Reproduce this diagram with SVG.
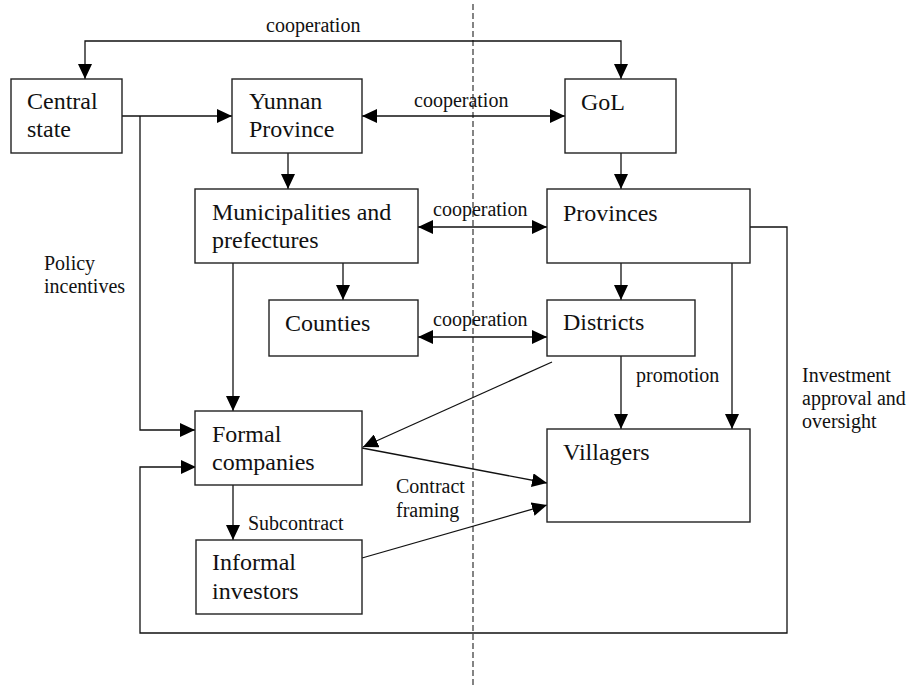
<svg xmlns="http://www.w3.org/2000/svg" width="914" height="690" viewBox="0 0 914 690">
<style>
.box{fill:#fff;stroke:#222;stroke-width:1.4}
.n{font-family:"Liberation Serif","Times New Roman",serif;font-size:24px;fill:#111}
.l{font-family:"Liberation Serif","Times New Roman",serif;font-size:20px;fill:#111}
.c{fill:none;stroke:#111;stroke-width:1.3}
.d{fill:none;stroke:#333;stroke-width:1.2;stroke-dasharray:6 3}
</style>
<defs>
<marker id="ah" viewBox="0 0 15 14" refX="15" refY="7" markerWidth="15" markerHeight="14" markerUnits="userSpaceOnUse" orient="auto-start-reverse">
<path d="M0,0 L15,7 L0,14 z" fill="#000"/>
</marker>
</defs>
<rect width="914" height="690" fill="#fff"/>
<line class="d" x1="473" y1="4" x2="473" y2="688"/>
<g id="connectors">
<polyline class="c" points="85,79 85,41 621,41 621,79" marker-start="url(#ah)" marker-end="url(#ah)"/>
<line class="c" x1="122" y1="116" x2="232" y2="116" marker-end="url(#ah)"/>
<polyline class="c" points="140,116 140,430 195,430" marker-end="url(#ah)"/>
<line class="c" x1="362" y1="116" x2="565" y2="116" marker-start="url(#ah)" marker-end="url(#ah)"/>
<line class="c" x1="288" y1="153" x2="288" y2="189" marker-end="url(#ah)"/>
<line class="c" x1="621" y1="153" x2="621" y2="189" marker-end="url(#ah)"/>
<line class="c" x1="418" y1="227" x2="547" y2="227" marker-start="url(#ah)" marker-end="url(#ah)"/>
<line class="c" x1="343" y1="263" x2="343" y2="300" marker-end="url(#ah)"/>
<line class="c" x1="233" y1="263" x2="233" y2="411" marker-end="url(#ah)"/>
<line class="c" x1="418" y1="337" x2="547" y2="337" marker-start="url(#ah)" marker-end="url(#ah)"/>
<line class="c" x1="621" y1="263" x2="621" y2="300" marker-end="url(#ah)"/>
<line class="c" x1="732" y1="263" x2="732" y2="429" marker-end="url(#ah)"/>
<line class="c" x1="621" y1="356" x2="621" y2="429" marker-end="url(#ah)"/>
<line class="c" x1="552" y1="362" x2="363" y2="447" marker-end="url(#ah)"/>
<line class="c" x1="362" y1="448" x2="547" y2="483" marker-end="url(#ah)"/>
<line class="c" x1="362" y1="558" x2="547" y2="505" marker-end="url(#ah)"/>
<line class="c" x1="233" y1="485" x2="233" y2="540" marker-end="url(#ah)"/>
<polyline class="c" points="750,227 787,227 787,633 140,633 140,467 196,467" marker-end="url(#ah)"/>
</g>
<g id="labels">
<text class="l" x="266" y="32">cooperation</text>
<text class="l" x="414" y="107">cooperation</text>
<text class="l" x="433" y="216">cooperation</text>
<text class="l" x="433" y="326">cooperation</text>
<text class="l" x="44" y="270">Policy</text>
<text class="l" x="44" y="293">incentives</text>
<text class="l" x="636" y="382">promotion</text>
<text class="l" x="802" y="382">Investment</text>
<text class="l" x="802" y="405">approval and</text>
<text class="l" x="802" y="428">oversight</text>
<text class="l" x="248" y="530">Subcontract</text>
<text class="l" x="396" y="493">Contract</text>
<text class="l" x="396" y="517">framing</text>
</g>
<g id="central-state"><rect class="box" x="11" y="79" width="111" height="74"/><text class="n" x="27" y="109">Central</text><text class="n" x="27" y="137">state</text></g>
<g id="yunnan"><rect class="box" x="232" y="79" width="130" height="74"/><text class="n" x="249" y="109">Yunnan</text><text class="n" x="249" y="137">Province</text></g>
<g id="gol"><rect class="box" x="565" y="79" width="111" height="74"/><text class="n" x="581" y="110">GoL</text></g>
<g id="municipalities"><rect class="box" x="195" y="189" width="223" height="74"/><text class="n" x="212" y="220">Municipalities and</text><text class="n" x="212" y="248">prefectures</text></g>
<g id="provinces"><rect class="box" x="547" y="189" width="203" height="74"/><text class="n" x="563" y="221">Provinces</text></g>
<g id="counties"><rect class="box" x="269" y="300" width="149" height="56"/><text class="n" x="285" y="331">Counties</text></g>
<g id="districts"><rect class="box" x="547" y="300" width="148" height="56"/><text class="n" x="563" y="330">Districts</text></g>
<g id="formal"><rect class="box" x="195" y="411" width="167" height="74"/><text class="n" x="212" y="442">Formal</text><text class="n" x="212" y="470">companies</text></g>
<g id="villagers"><rect class="box" x="547" y="429" width="203" height="93"/><text class="n" x="563" y="460">Villagers</text></g>
<g id="informal"><rect class="box" x="196" y="540" width="166" height="74"/><text class="n" x="212" y="570">Informal</text><text class="n" x="212" y="599">investors</text></g>
</svg>
